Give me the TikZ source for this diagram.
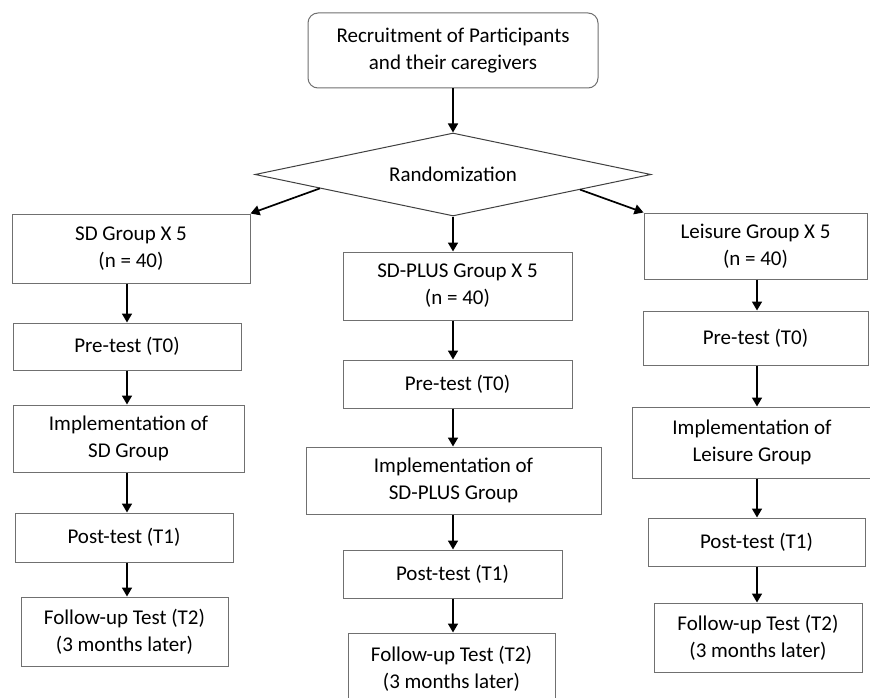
\documentclass[tikz,border=0pt]{standalone}
\usepackage{fontspec}
\setmainfont{Carlito}
\usetikzlibrary{shapes.geometric,arrows.meta,calc}

\definecolor{boxgray}{RGB}{112,112,112}

\begin{document}
\begin{tikzpicture}[x=1pt,y=-1pt,
    box/.style={draw=boxgray, line width=1pt, fill=white, align=center, inner sep=0pt,
        font=\fontsize{21}{27}\selectfont},
    arr/.style={-{Triangle[length=9pt,width=10pt]}, line width=1.7pt}]
    \useasboundingbox[fill=white] (0,0) rectangle (870,698);

    % 募集とランダム化
    \node[box, rounded corners=10pt, minimum width=290pt, minimum height=75pt] (recruit) at (453,50.5)
        {Recruitment of Participants\\and their caregivers};
    \node[box, diamond, shape aspect=4.77, draw=black!75, minimum width=396pt, minimum height=83pt] (rand) at (453,174.5)
        {Randomization};

    % SD群（左列）
    \node[box, minimum width=238pt, minimum height=69pt] (sdg) at (131,248.5) {SD Group X 5\\(n = 40)};
    \node[box, minimum width=228pt, minimum height=47pt] (preL) at (127,346.5) {Pre-test (T0)};
    \node[box, minimum width=231pt, minimum height=67pt] (impL) at (128.5,438.5) {Implementation of\\SD Group};
    \node[box, minimum width=218pt, minimum height=49pt] (postL) at (124,537.5) {Post-test (T1)};
    \node[box, minimum width=207pt, minimum height=69pt] (fuL) at (124.5,631.5) {Follow-up Test (T2)\\(3 months later)};

    % SD-PLUS群（中央列）
    \node[box, minimum width=229pt, minimum height=68pt] (plus) at (457.5,286) {SD-PLUS Group X 5\\(n = 40)};
    \node[box, minimum width=229pt, minimum height=48pt] (preM) at (457.5,384) {Pre-test (T0)};
    \node[box, minimum width=295pt, minimum height=67pt] (impM) at (453.5,480.5) {Implementation of\\SD-PLUS Group};
    \node[box, minimum width=219pt, minimum height=48pt] (postM) at (452.5,574) {Post-test (T1)};
    \node[box, minimum width=207pt, minimum height=71pt] (fuM) at (451.5,668.5) {Follow-up Test (T2)\\(3 months later)};

    % 余暇群（右列）
    \node[box, minimum width=223pt, minimum height=66pt] (leis) at (755.5,246) {Leisure Group X 5\\(n = 40)};
    \node[box, minimum width=225pt, minimum height=54pt] (preR) at (755.5,338) {Pre-test (T0)};
    \node[box, minimum width=240pt, minimum height=71pt] (impR) at (752,442.5) {Implementation of\\Leisure Group};
    \node[box, minimum width=217pt, minimum height=48pt] (postR) at (756.5,542) {Post-test (T1)};
    \node[box, minimum width=208pt, minimum height=69pt] (fuR) at (758,637.5) {Follow-up Test (T2)\\(3 months later)};

    % 矢印の列位置
    \coordinate (colL) at (127,0);
    \coordinate (colM) at (453,0);
    \coordinate (colR) at (757,0);

    % 上部の矢印
    \draw[arr] (recruit.south -| colM) -- (rand.north -| colM);
    \draw[arr] ($(rand.west)!0.33!(rand.south)$) -- (sdg.north east);
    \draw[arr] (rand.south -| colM) -- (plus.north -| colM);
    \draw[arr] ($(rand.south)!0.64!(rand.east)$) -- (leis.north west);

    % 各列の矢印
    \draw[arr] (sdg.south -| colL) -- (preL.north -| colL);
    \draw[arr] (preL.south -| colL) -- (impL.north -| colL);
    \draw[arr] (impL.south -| colL) -- (postL.north -| colL);
    \draw[arr] (postL.south -| colL) -- (fuL.north -| colL);

    \draw[arr] (plus.south -| colM) -- (preM.north -| colM);
    \draw[arr] (preM.south -| colM) -- (impM.north -| colM);
    \draw[arr] (impM.south -| colM) -- (postM.north -| colM);
    \draw[arr] (postM.south -| colM) -- (fuM.north -| colM);

    \draw[arr] (leis.south -| colR) -- (preR.north -| colR);
    \draw[arr] (preR.south -| colR) -- (impR.north -| colR);
    \draw[arr] (impR.south -| colR) -- (postR.north -| colR);
    \draw[arr] (postR.south -| colR) -- (fuR.north -| colR);
\end{tikzpicture}
\end{document}
